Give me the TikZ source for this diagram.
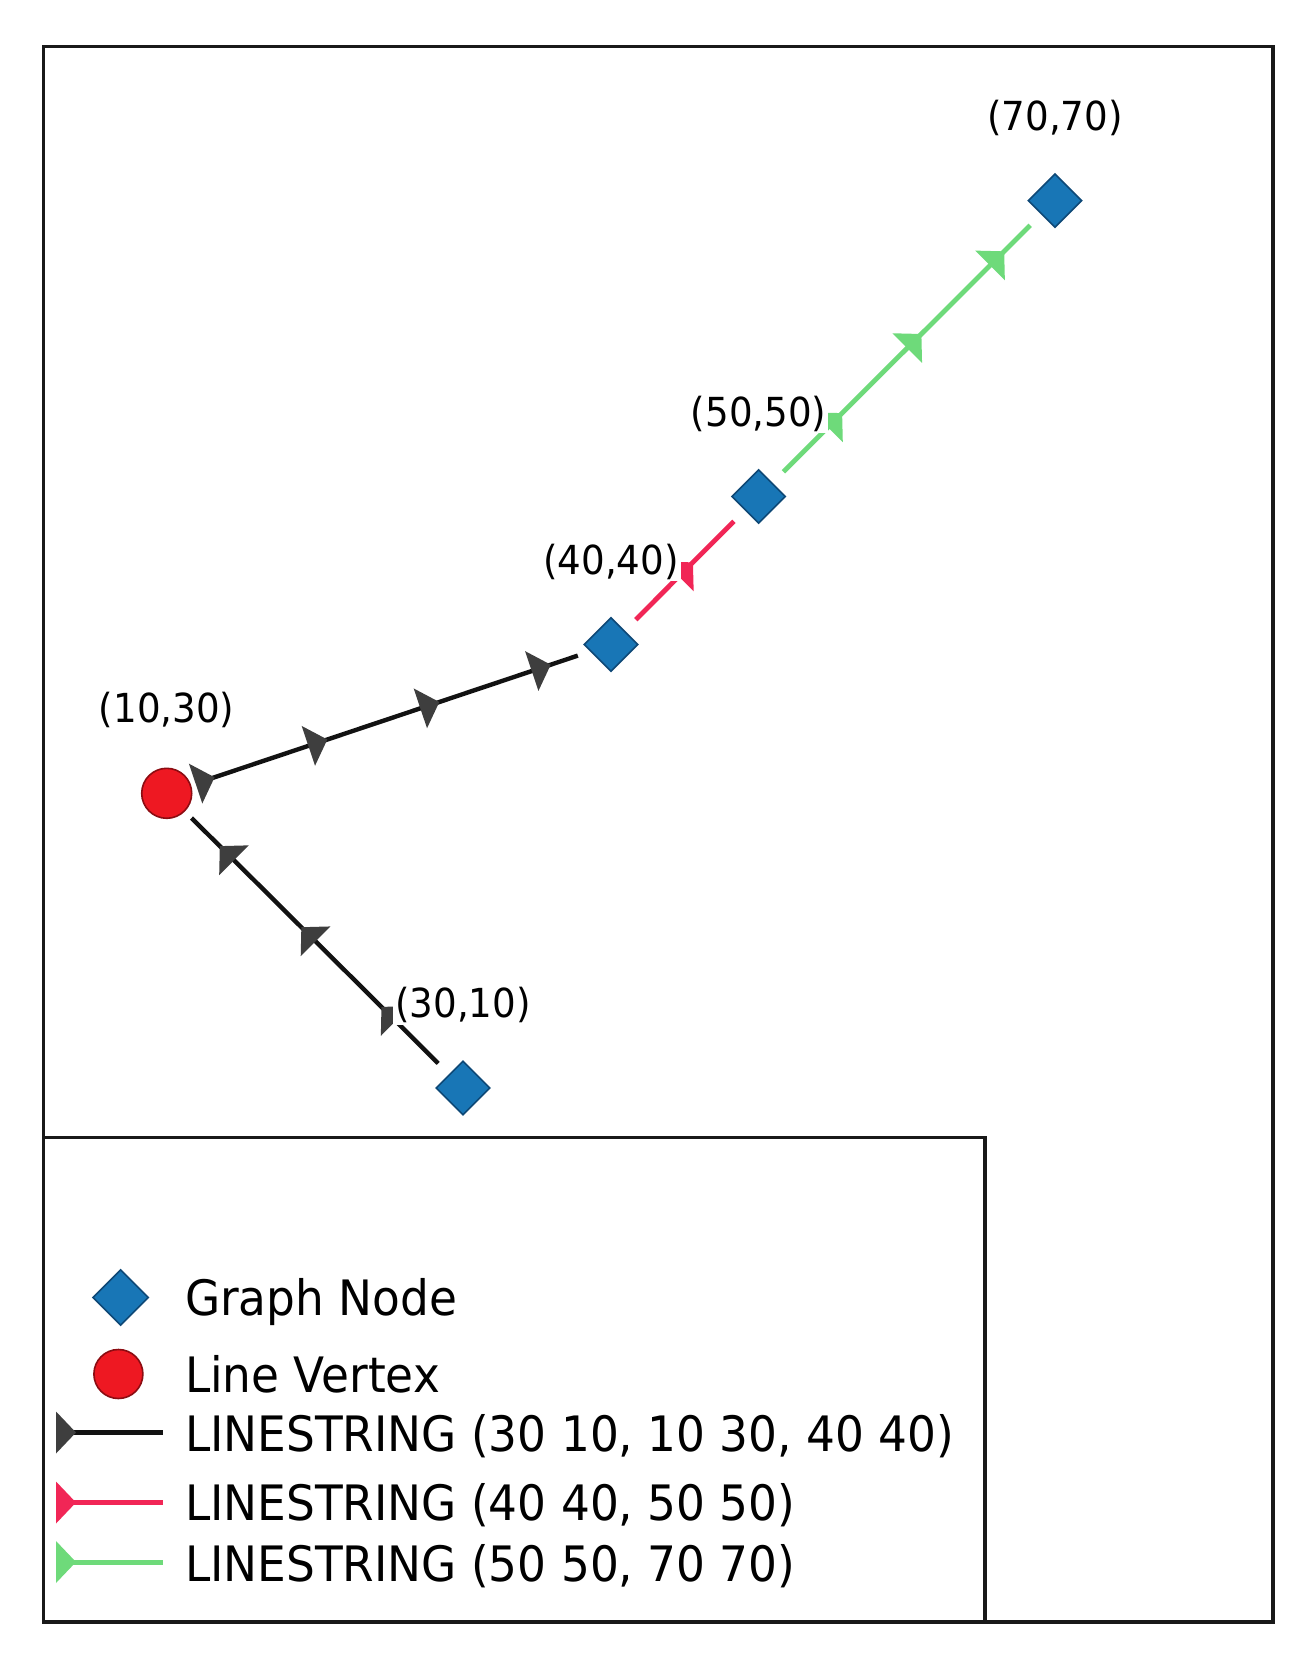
\documentclass[tikz,border=0pt]{standalone}
\usepackage{fontspec}
\setmainfont{DejaVu Sans}[FakeStretch=0.93]
\usetikzlibrary{shapes.geometric,calc,decorations.markings}
\definecolor{nodeblue}{RGB}{24,118,182}
\definecolor{nodeedge}{RGB}{14,72,118}
\definecolor{vxred}{RGB}{238,24,34}
\definecolor{vxedge}{RGB}{140,12,18}
\definecolor{lsred}{RGB}{241,38,86}
\definecolor{lsgreen}{RGB}{110,218,122}
\definecolor{mkgray}{RGB}{62,62,62}
\definecolor{framec}{RGB}{25,25,25}
\definecolor{lsblack}{RGB}{18,18,18}
\pgfdeclarelayer{bg}
\pgfsetlayers{bg,main}
\newcommand{\tri}[1]{\fill[#1] (5pt,0pt) -- (-5pt,10.5pt) -- (-5pt,-10.5pt) -- cycle;}
\begin{document}
\begin{tikzpicture}[x=0.5pt,y=-0.5pt,
  gnode/.style={diamond, aspect=1, minimum width=27pt, minimum height=27pt, inner sep=0pt, fill=nodeblue, draw=nodeedge, line width=0.8pt},
  vnode/.style={circle, minimum size=25pt, inner sep=0pt, fill=vxred, draw=vxedge, line width=0.8pt},
  clabel/.style={inner sep=1pt, fill=white, font=\fontsize{20pt}{24pt}\selectfont},
  legtext/.style={anchor=west, inner sep=0pt, text height=17.8pt, text depth=0pt, font=\fontsize{24.4pt}{29pt}\selectfont},
  frameline/.style={draw=framec, line width=1.8pt},
  seg/.style={line width=2.4pt, shorten >=17.5pt, shorten <=17.5pt},
  blackseg/.style={seg, draw=lsblack, line width=2.2pt},
  redseg/.style={seg, draw=lsred},
  greenseg/.style={seg, draw=lsgreen},
  legline/.style={line width=2.5pt}
]
\path[use as bounding box] (0,0) rectangle (1306,1673);

% graph nodes and vertex
\node[gnode] (n7070) at (1055,200.6) {};
\node[gnode] (n5050) at (758.6,496.5) {};
\node[gnode] (n4040) at (611,644.5) {};
\node[gnode] (n3010) at (463,1088) {};
\node[vnode] (v1030) at (166.7,793.3) {};

\begin{pgfonlayer}{bg}
  \draw[frameline] (43.3,46.7) rectangle (1273,1622);
  \draw[frameline, fill=white] (43.3,1137.4) rectangle (985,1622);
  % line segments
  \draw[blackseg] (n3010.center) -- (v1030.center);
  \draw[blackseg] (v1030.center) -- (n4040.center);
  \draw[redseg] (n4040.center) -- (n5050.center);
  \draw[greenseg] (n5050.center) -- (n7070.center);
  % direction markers
  \path[decorate, decoration={markings,
    mark=at position 52.5pt with {\tri{mkgray}},
    mark=at position 109pt with {\tri{mkgray}},
    mark=at position 166.5pt with {\tri{mkgray}}}] (n3010.center) -- (v1030.center);
  \path[decorate, decoration={markings,
    mark=at position 20.25pt with {\tri{mkgray}},
    mark=at position 79.7pt with {\tri{mkgray}},
    mark=at position 138.75pt with {\tri{mkgray}},
    mark=at position 197.5pt with {\tri{mkgray}}}] (v1030.center) -- (n4040.center);
  \path[decorate, decoration={markings,
    mark=at position 53pt with {\tri{lsred}}}] (n4040.center) -- (n5050.center);
  \path[decorate, decoration={markings,
    mark=at position 54pt with {\tri{lsgreen}},
    mark=at position 110pt with {\tri{lsgreen}},
    mark=at position 168.5pt with {\tri{lsgreen}}}] (n5050.center) -- (n7070.center);
\end{pgfonlayer}

% coordinate labels
\node[clabel] (l7070) at ($(n7070)+(0,-83)$) {(70,70)};
\node[clabel] (l5050) at ($(n5050)+(0,-83)$) {(50,50)};
\node[clabel] (l4040) at ($(n4040)+(0,-83)$) {(40,40)};
\node[clabel] (l1030) at ($(v1030)+(0,-83)$) {(10,30)};
\node[clabel] (l3010) at ($(n3010)+(0,-83)$) {(30,10)};

% legend
\node[gnode, minimum width=28pt, minimum height=28pt] (leggn) at (120.6,1297.5) {};
\node[legtext] (leggnt) at (184.6,1298) {Graph Node};
\node[vnode, minimum size=24.5pt] (legvx) at (118.4,1374) {};
\node[legtext] (legvxt) at (184.6,1375) {Line Vertex};

\draw[legline, draw=lsblack] (62,1432.5) -- (163,1432.5);
\fill[mkgray] (56,1411.5) -- (76,1432.5) -- (56,1453.5) -- cycle;
\node[legtext] (legl1) at (184.6,1433.5) {LINESTRING (30 10, 10 30, 40 40)};

\draw[legline, draw=lsred] (62,1502.5) -- (163,1502.5);
\fill[lsred] (56,1481.5) -- (76,1502.5) -- (56,1523.5) -- cycle;
\node[legtext] (legl2) at (184.6,1503) {LINESTRING (40 40, 50 50)};

\draw[legline, draw=lsgreen] (62,1562) -- (163,1562);
\fill[lsgreen] (56,1541) -- (76,1562) -- (56,1583) -- cycle;
\node[legtext] (legl3) at (184.6,1563.7) {LINESTRING (50 50, 70 70)};
\end{tikzpicture}
\end{document}
